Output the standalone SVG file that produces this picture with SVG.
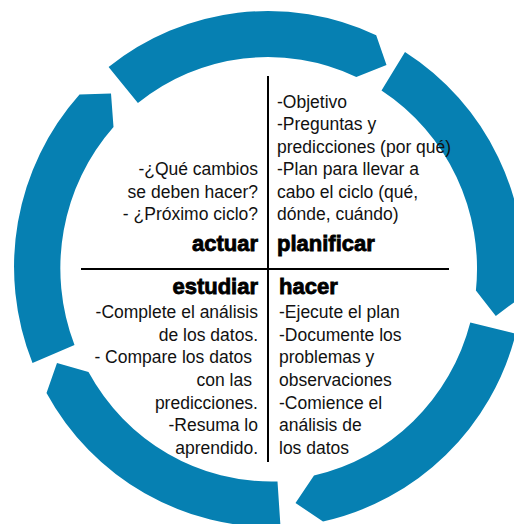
<svg xmlns="http://www.w3.org/2000/svg" width="514" height="524" viewBox="0 0 514 524">
  <style>
    .arc { fill: #0680b2; stroke: none; }
    .div { stroke: #000; stroke-width: 2; fill: none; }
    .t { font-family: "Liberation Sans", Arial, sans-serif; font-size: 17.5px; fill: #111; }
    .r { text-anchor: end; }
    .b { font-family: "Liberation Sans", Arial, sans-serif; font-weight: bold; font-size: 22px; fill: #000; stroke: #000; stroke-width: 0.8; }
  </style>
  <rect width="514" height="524" fill="#fff"/>
  <g id="connectors">
    <path class="arc" d="M108.6,67.1 A256,258 0 0 1 376.2,35.2 L386.5,65 L356.3,76.9 A209,212 0 0 0 137.9,103.1 Z"/>
    <path class="arc" d="M405,52 A256,258 0 0 1 522.6,296.0 L495.8,315.9 L475.9,290.5 A209,212 0 0 0 381.5,90.5 Z"/>
    <path class="arc" d="M515.8,333.6 A256,258 0 0 1 323,521.5 L295.5,503 L314,475.5 A209,212 0 0 0 470.3,322.5 Z"/>
    <path class="arc" d="M280.5,526.7 A256,258 0 0 1 46.5,393 L57,363 L88.5,372 A209,212 0 0 0 277.5,481.5 Z"/>
    <path class="arc" d="M32.5,363 A256,258 0 0 1 79.5,94.5 L111,93.5 L113.5,127 A209,212 0 0 0 74.5,345 Z"/>
  </g>
  <g id="dividers">
    <line class="div" x1="268" y1="76" x2="268" y2="462"/>
    <line class="div" x1="81" y1="269" x2="449" y2="269"/>
  </g>
  <g id="actuar">
    <text class="t r" x="258" y="175">-¿Qué cambios</text>
    <text class="t r" x="258" y="197.5">se deben hacer?</text>
    <text class="t r" x="258" y="220">- ¿Próximo ciclo?</text>
    <text class="b r" x="258" y="251">actuar</text>
  </g>
  <g id="planificar">
    <text class="t" x="277" y="107.5">-Objetivo</text>
    <text class="t" x="277" y="130">-Preguntas y</text>
    <text class="t" x="277" y="152.5">predicciones (por qué)</text>
    <text class="t" x="277" y="175">-Plan para llevar a</text>
    <text class="t" x="277" y="197.5">cabo el ciclo (qué,</text>
    <text class="t" x="277" y="220">dónde, cuándo)</text>
    <text class="b" x="277" y="251">planificar</text>
  </g>
  <g id="estudiar">
    <text class="b r" x="258" y="294">estudiar</text>
    <text class="t r" x="258" y="318">-Complete el análisis</text>
    <text class="t r" x="258" y="340.5">de los datos.</text>
    <text class="t r" x="252" y="363">- Compare los datos</text>
    <text class="t r" x="252" y="386">con las</text>
    <text class="t r" x="258" y="408.5">predicciones.</text>
    <text class="t r" x="258" y="431">-Resuma lo</text>
    <text class="t r" x="258" y="454">aprendido.</text>
  </g>
  <g id="hacer">
    <text class="b" x="279" y="294">hacer</text>
    <text class="t" x="279" y="318">-Ejecute el plan</text>
    <text class="t" x="279" y="340.5">-Documente los</text>
    <text class="t" x="279" y="363">problemas y</text>
    <text class="t" x="279" y="386">observaciones</text>
    <text class="t" x="279" y="408.5">-Comience el</text>
    <text class="t" x="279" y="431">análisis de</text>
    <text class="t" x="279" y="454">los datos</text>
  </g>
</svg>
